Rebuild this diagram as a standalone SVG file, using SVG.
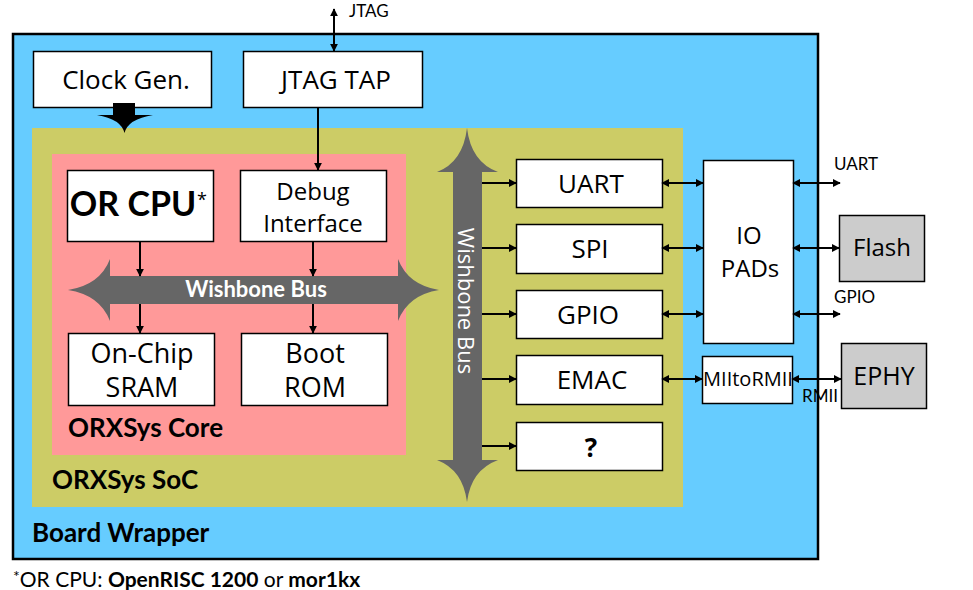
<svg xmlns="http://www.w3.org/2000/svg" width="973" height="590" viewBox="0 0 973 590">
<defs>
<marker id="ah" viewBox="0 0 10 10" refX="9" refY="5" markerWidth="8" markerHeight="8" markerUnits="userSpaceOnUse" orient="auto-start-reverse">
<path d="M0,0 L10,5 L0,10 z" fill="#000"/>
</marker>
<style>
.box{fill:#fff;stroke:#000;stroke-width:1.5}
.gbox{fill:#ccc;stroke:#000;stroke-width:1.5}
.t{font-family:"Open Sans","Liberation Sans",sans-serif;font-size:26px;fill:#000;text-anchor:middle}
.lb{font-family:Lato,"Liberation Sans",sans-serif;font-weight:bold;font-size:26px;fill:#000}
.sm{font-family:Lato,"Liberation Sans",sans-serif;font-size:17px;fill:#000}
.c line,.c path{stroke:#000;stroke-width:2;fill:none}
.bus{fill:#666}
</style>
</defs>
<g id="board-wrapper">
<rect x="13" y="34" width="805" height="525" fill="#66CCFF" stroke="#000" stroke-width="2.5"/>
<text class="lb" x="32" y="542">Board Wrapper</text>
</g>
<g id="orxsys-soc">
<rect x="32" y="128" width="651" height="379" fill="#CCCC66"/>
<text class="lb" x="52" y="489">ORXSys SoC</text>
</g>
<g id="orxsys-core">
<rect x="52" y="154" width="354" height="301" fill="#FF9999"/>
<text class="lb" x="68" y="437">ORXSys Core</text>
</g>
<g id="clock-gen">
<rect class="box" x="33.5" y="51.5" width="178" height="56"/>
<text class="t" x="126" y="89">Clock Gen.</text>
<path d="M113,103 L135,103 L135,115 L153,115 Q128,119 124.5,133 Q121,119 97,115 L113,115 Z" fill="#000"/>
</g>
<g id="jtag-tap">
<rect class="box" x="243.5" y="51.5" width="179" height="56"/>
<text class="t" x="336" y="89">JTAG TAP</text>
</g>
<g id="or-cpu">
<rect class="box" x="67.5" y="170.5" width="146" height="71"/>
<text x="133" y="216" text-anchor="middle" style="font-family:Lato,'Liberation Sans',sans-serif;font-weight:bold;font-size:34px">OR CPU</text>
<text x="197" y="206" style="font-family:'Open Sans','Liberation Sans',sans-serif;font-size:18px">*</text>
</g>
<g id="debug-interface">
<rect class="box" x="240.5" y="170.5" width="146" height="71"/>
<text class="t" x="313" y="200" style="font-size:24px">Debug</text>
<text class="t" x="313" y="232" style="font-size:24px">Interface</text>
</g>
<g id="wishbone-bus-core">
<path class="bus" d="M68,290 Q100,285 110,259 L110,276 L398,276 L398,259 Q408,285 439,290 Q408,295 398,321 L398,304 L110,304 L110,321 Q100,295 68,290 Z"/>
<text x="256" y="297" text-anchor="middle" style="font-family:Lato,'Liberation Sans',sans-serif;font-weight:bold;font-size:22px;fill:#fff">Wishbone Bus</text>
</g>
<g id="on-chip-sram">
<rect class="box" x="68.5" y="333.5" width="146" height="72"/>
<text class="t" x="142" y="363" style="font-size:27px">On-Chip</text>
<text class="t" x="142" y="397" style="font-size:27px">SRAM</text>
</g>
<g id="boot-rom">
<rect class="box" x="241.5" y="333.5" width="146" height="72"/>
<text class="t" x="315" y="363" style="font-size:27px">Boot</text>
<text class="t" x="315" y="397" style="font-size:27px">ROM</text>
</g>
<g id="wishbone-bus-soc">
<path class="bus" d="M467,128 Q471,162 498,172 L482,172 L482,460 L498,460 Q471,470 467,502 Q463,470 437,460 L453,460 L453,172 L437,172 Q463,162 467,128 Z"/>
<text x="458" y="301" text-anchor="middle" transform="rotate(90 458 301)" style="font-family:'Open Sans','Liberation Sans',sans-serif;font-size:22px;fill:#fff">Wishbone Bus</text>
</g>
<g id="uart">
<rect class="box" x="516.5" y="159.5" width="146" height="48"/>
<text class="t" x="591" y="193">UART</text>
</g>
<g id="spi">
<rect class="box" x="516.5" y="224.5" width="146" height="49"/>
<text class="t" x="590" y="258">SPI</text>
</g>
<g id="gpio">
<rect class="box" x="516.5" y="290.5" width="146" height="48"/>
<text class="t" x="588" y="324">GPIO</text>
</g>
<g id="emac">
<rect class="box" x="516.5" y="355.5" width="146" height="49"/>
<text class="t" x="592" y="389">EMAC</text>
</g>
<g id="unknown">
<rect class="box" x="516.5" y="422.5" width="146" height="48"/>
<text class="t" x="591" y="457" style="font-weight:bold">?</text>
</g>
<g id="io-pads">
<rect class="box" x="703.5" y="160.5" width="90" height="183"/>
<text class="t" x="749" y="244" style="font-size:24px">IO</text>
<text class="t" x="750" y="277" style="font-size:24px">PADs</text>
</g>
<g id="miitormii">
<rect class="box" x="702.5" y="356.5" width="90" height="47"/>
<text class="t" x="748" y="386" style="font-size:20px">MIItoRMII</text>
</g>
<g id="flash">
<rect class="gbox" x="839.5" y="215.5" width="85" height="66"/>
<text class="t" x="882" y="256" style="font-size:24px">Flash</text>
</g>
<g id="ephy">
<rect class="gbox" x="841.5" y="343.5" width="85" height="65"/>
<text class="t" x="884" y="385" style="font-size:25px">EPHY</text>
</g>
<g id="connectors" class="c">
<line x1="334" y1="9" x2="334" y2="51" marker-start="url(#ah)" marker-end="url(#ah)"/>
<line x1="318" y1="108" x2="318" y2="170" marker-end="url(#ah)"/>
<line x1="140" y1="242" x2="140" y2="276" marker-end="url(#ah)"/>
<line x1="313" y1="242" x2="313" y2="276" marker-end="url(#ah)"/>
<line x1="140" y1="304" x2="140" y2="333" marker-end="url(#ah)"/>
<line x1="313" y1="304" x2="313" y2="333" marker-end="url(#ah)"/>
<line x1="482" y1="183" x2="516" y2="183" marker-end="url(#ah)"/>
<line x1="482" y1="248" x2="516" y2="248" marker-end="url(#ah)"/>
<line x1="482" y1="314" x2="516" y2="314" marker-end="url(#ah)"/>
<line x1="482" y1="379" x2="516" y2="379" marker-end="url(#ah)"/>
<line x1="482" y1="446" x2="516" y2="446" marker-end="url(#ah)"/>
<line x1="662" y1="183" x2="703" y2="183" marker-start="url(#ah)" marker-end="url(#ah)"/>
<line x1="662" y1="248" x2="703" y2="248" marker-start="url(#ah)" marker-end="url(#ah)"/>
<line x1="662" y1="314" x2="703" y2="314" marker-start="url(#ah)" marker-end="url(#ah)"/>
<line x1="662" y1="379" x2="702" y2="379" marker-start="url(#ah)" marker-end="url(#ah)"/>
<line x1="793" y1="183" x2="840" y2="183" marker-start="url(#ah)" marker-end="url(#ah)"/>
<line x1="793" y1="248" x2="839" y2="248" marker-start="url(#ah)" marker-end="url(#ah)"/>
<line x1="793" y1="314" x2="840" y2="314" marker-start="url(#ah)" marker-end="url(#ah)"/>
<line x1="792" y1="379" x2="841" y2="379" marker-start="url(#ah)" marker-end="url(#ah)"/>
</g>
<g id="labels">
<text class="sm" x="349" y="17">JTAG</text>
<text class="sm" x="834" y="170">UART</text>
<text class="sm" x="834" y="303">GPIO</text>
<text class="sm" x="802" y="402">RMII</text>
</g>
<g id="footnote">
<text x="13" y="587" style="font-family:Lato,'Liberation Sans',sans-serif;font-size:21px;fill:#000"><tspan font-size="16" dy="-5">*</tspan><tspan dy="5">OR CPU: </tspan><tspan font-weight="bold">OpenRISC 1200</tspan> or <tspan font-weight="bold">mor1kx</tspan></text>
</g>
</svg>
